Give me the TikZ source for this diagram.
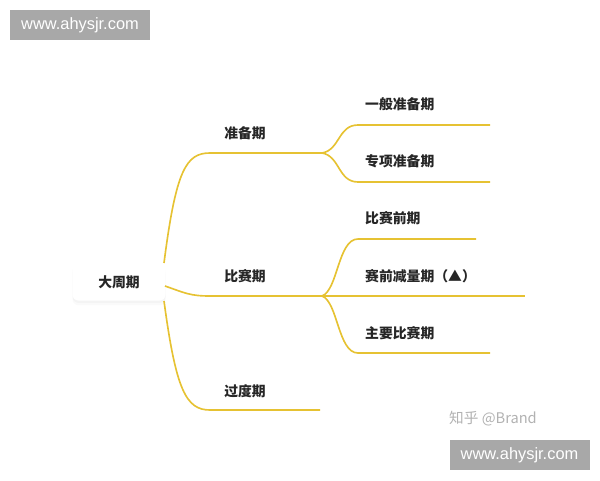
\documentclass[tikz,border=0pt]{standalone}
\usepackage{fontspec}
\newfontfamily\cjk{Noto Sans CJK SC}
\newfontfamily\wmfont{Liberation Sans}
\usetikzlibrary{shadows}
\definecolor{branch}{RGB}{230,194,50}
\definecolor{wmgray}{RGB}{168,168,168}

\begin{document}
\begin{tikzpicture}[x=0.03cm,y=-0.03cm,
  line/.style={draw=branch,line width=1.4pt},
  lbl/.style={font=\cjk\bfseries\fontsize{11.8}{13}\selectfont,text=black!85,inner sep=0pt},
  wm/.style={fill=wmgray,text=white,font=\wmfont\fontsize{14}{15}\selectfont,minimum width=140*0.03cm,minimum height=30*0.03cm,inner sep=0pt}]
  \useasboundingbox (0,0) rectangle (600,480);
  % root
  \node [fill=white,rounded corners=5pt,minimum width=93*0.03cm,minimum height=37*0.03cm,
    drop shadow={shadow xshift=0pt,shadow yshift=-4pt,opacity=0.04},
    drop shadow={shadow xshift=0pt,shadow yshift=-2pt,opacity=0.05}] (root) at (119,282) {};
  \node [lbl] (rootlbl) at (root) {大周期};
  % first level
  \coordinate (r1) at (164,263);
  \coordinate (r2) at (165,286);
  \coordinate (r3) at (164,301);
  \coordinate (p1) at (322,153);
  \coordinate (p2) at (322,296);
  \coordinate (p3) at (320,410);
  \draw [line] (r1) .. controls (176,170) and (186,153) .. (210,153) -- (p1);
  \draw [line] (r2) .. controls (185,293) and (190,296) .. (210,296) -- (p2);
  \draw [line] (r3) .. controls (176,390) and (186,410) .. (210,410) -- (p3);
  \node [lbl] (prep) at (245,133) {准备期};
  \node [lbl] (comp) at (245,276) {比赛期};
  \node [lbl] (trans) at (245,391) {过度期};
  % second level
  \coordinate (e1) at (490,125);
  \coordinate (e2) at (490,182);
  \coordinate (e3) at (476,239);
  \coordinate (e4) at (525,296);
  \coordinate (e5) at (490,353);
  \draw [line] (p1) .. controls (340,150) and (338,125) .. (358,125) -- (e1);
  \draw [line] (p1) .. controls (340,156) and (338,182) .. (358,182) -- (e2);
  \draw [line] (p2) .. controls (338,290) and (338,239) .. (358,239) -- (e3);
  \draw [line] (p2) -- (e4);
  \draw [line] (p2) .. controls (338,302) and (338,353) .. (358,353) -- (e5);
  \node [lbl,anchor=west] (gen) at (365,104) {一般准备期};
  \node [lbl,anchor=west] (spec) at (365,161) {专项准备期};
  \node [lbl,anchor=west] (pre) at (365,218) {比赛前期};
  \node [lbl,anchor=west] (taper) at (365,276) {赛前减量期（▲）};
  \node [lbl,anchor=west] (main) at (365,333) {主要比赛期};
  % marks
  \node [wm] (wmtop) at (80,25) {www.ahysjr.com};
  \node [wm] (wmbot) at (519.5,455) {www.ahysjr.com};
  \node [font=\cjk\fontsize{12.5}{14}\selectfont,text=black!30,inner sep=0pt] (zh) at (493,419) {知乎 @Brand};
\end{tikzpicture}
\end{document}
